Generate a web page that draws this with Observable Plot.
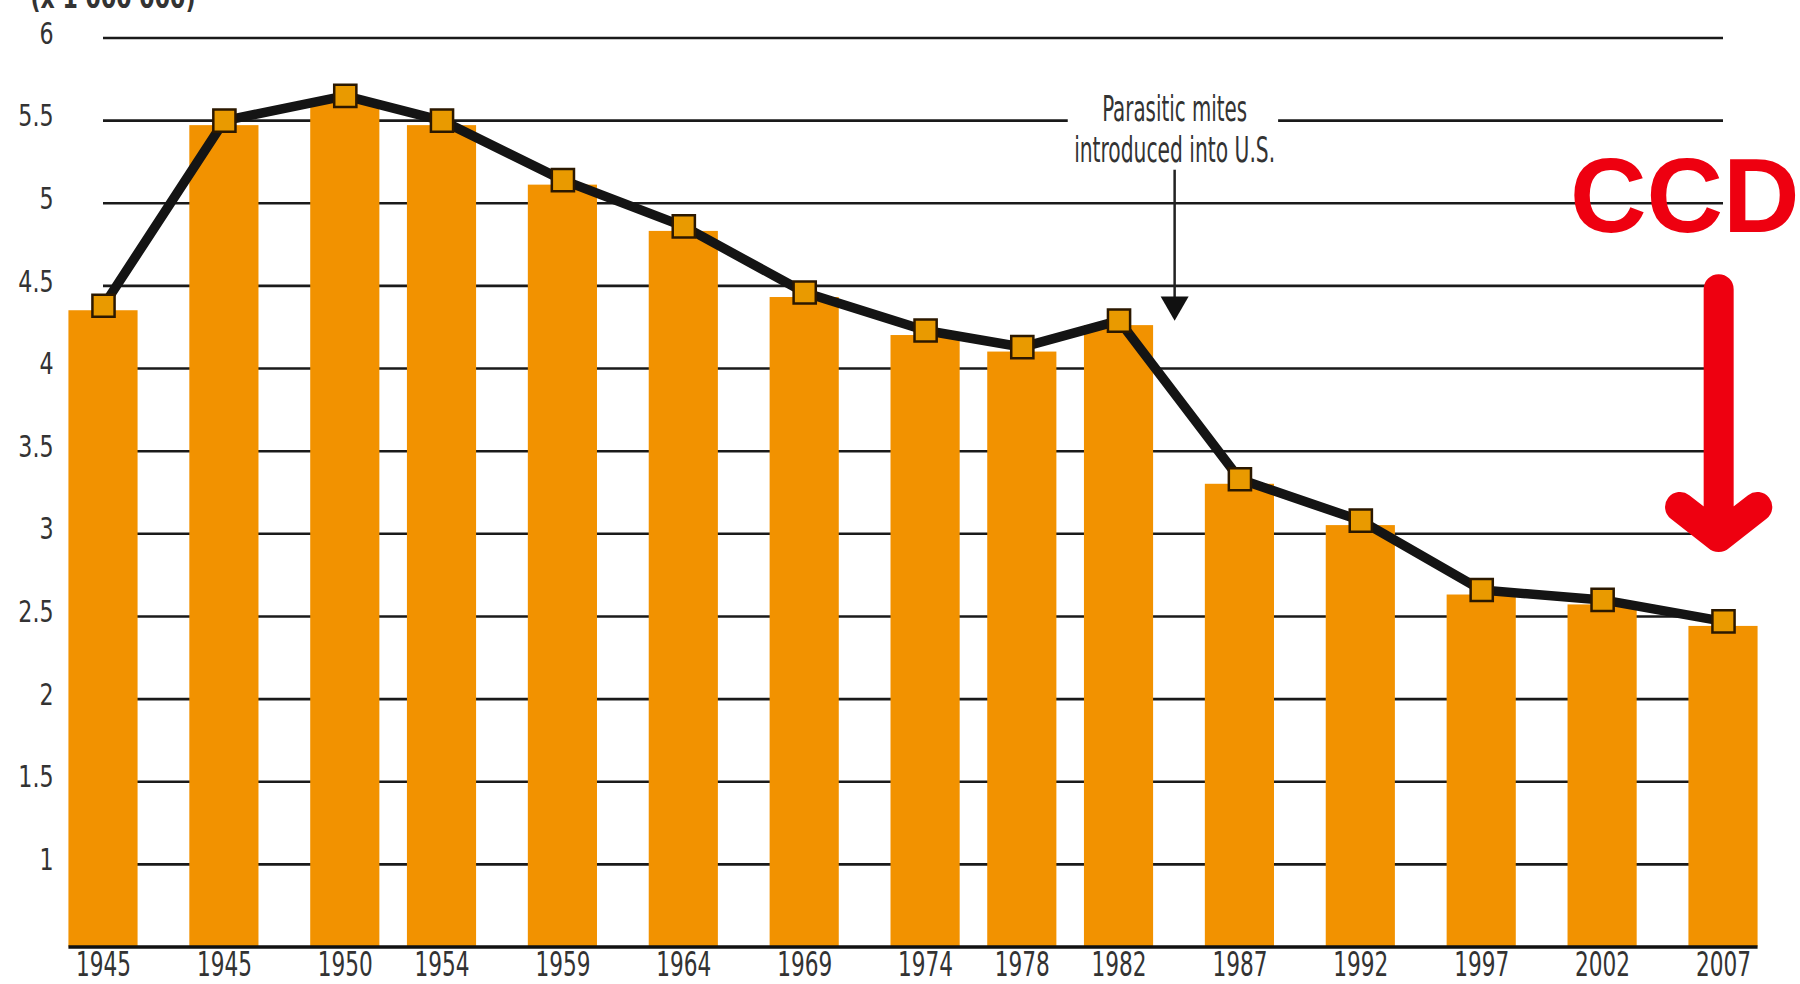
<!DOCTYPE html>
<html>
<head>
<meta charset="utf-8">
<script src="https://cdn.jsdelivr.net/npm/d3@7"></script>
<script src="https://cdn.jsdelivr.net/npm/@observablehq/plot@0.6"></script>
<style>
  html, body { margin: 0; padding: 0; background: #fff; overflow: hidden; }
  #chart { width: 1800px; height: 984px; }
</style>
</head>
<body>
<div id="chart"></div>
<script>
// Honey-producing bee colonies in the U.S. (millions)
const years = [1940, 1945, 1950, 1954, 1959, 1964, 1969, 1974, 1978, 1982, 1987, 1992, 1997, 2002, 2007];
const xTickLabels = ["1945", "1945", "1950", "1954", "1959", "1964", "1969", "1974", "1978", "1982", "1987", "1992", "1997", "2002", "2007"];
const colonies = [4.38, 5.50, 5.65, 5.50, 5.14, 4.86, 4.46, 4.23, 4.13, 4.29, 3.33, 3.08, 2.66, 2.60, 2.47];
const yTicks = [1, 1.5, 2, 2.5, 3, 3.5, 4, 4.5, 5, 5.5, 6];
const yTickLabels = ["1", "1.5", "2", "2.5", "3", "3.5", "4", "4.5", "5", "5.5", "6"];
const unitLabel = "(x 1 000 000)";
const miteNote = ["Parasitic mites", "introduced into U.S."];
const ccdLabel = "CCD";

const data = years.map((year, i) => ({year, value: colonies[i]}));

const yBase = 0.5;
const halfBar = 1.43;          // half bar width, in years
const miteYear = 1984.3;       // where the mite note points
const ccdYear = 2006.8;        // where the CCD arrow sits

const narrow = "'Liberation Sans Narrow', 'DejaVu Sans Condensed', 'Arial Narrow', sans-serif";
const orange = "#f29200";
const red = "#ee0010";
const ink = "#333";

const plot = Plot.plot({
  width: 1800,
  height: 984,
  marginTop: 37.5,
  marginBottom: 37.5,
  marginLeft: 103,
  marginRight: 77,
  x: {type: "linear", domain: [years[0], years[years.length - 1]], label: null},
  y: {domain: [yBase, 6], label: null},
  marks: [
    // horizontal guide lines
    Plot.ruleY(yTicks, {x1: years[0], x2: years[years.length - 1], stroke: "#1a1a1a", strokeWidth: 2.6}),
    // colony bars
    Plot.rectY(data, {x1: d => d.year - halfBar, x2: d => d.year + halfBar, y1: yBase, y2: "value", fill: orange, insetTop: 5}),
    // baseline
    Plot.ruleY([yBase], {x1: years[0] - halfBar, x2: years[years.length - 1] + halfBar, stroke: "#111", strokeWidth: 3.5}),
    // white panel behind the mite note
    Plot.rect([0], {x1: miteYear - 4.4, x2: miteYear + 4.3, y1: 5.21, y2: 5.74, fill: "#fff"}),
    // trend line with square markers
    Plot.line(data, {x: "year", y: "value", stroke: "#141414", strokeWidth: 9.5, strokeLinejoin: "round"}),
    Plot.dot(data, {x: "year", y: "value", symbol: "square", r: 12.5, fill: "#e99a00", stroke: "#2b1800", strokeWidth: 2.5}),
    // mite note: pointer
    Plot.ruleX([miteYear], {y1: 5.20, y2: 4.36, stroke: "#222", strokeWidth: 2.5}),
    Plot.dot([miteYear], {x: d => d, y: 4.29, dy: -16, symbol: "triangle", rotate: 180, r: 10.4, fill: "#111", stroke: "none"}),
    Plot.text([miteNote[0]], {x: miteYear, y: 5.50, text: d => d, lineAnchor: "bottom", fontSize: 35, fontFamily: narrow, fill: ink}),
    Plot.text([miteNote[1]], {x: miteYear, y: 5.25, text: d => d, lineAnchor: "bottom", fontSize: 35, fontFamily: narrow, fill: ink}),
    // CCD callout
    Plot.text([ccdLabel], {x: 2005.4, y: 5.03, text: d => d, lineAnchor: "middle", fontSize: 106, fontWeight: "bold", fontFamily: "'Liberation Sans', Arial, sans-serif", fill: red}),
    Plot.arrow([ccdYear], {x1: d => d, x2: d => d, y1: 4.48, y2: 2.98, stroke: red, strokeWidth: 30, headAngle: 104, headLength: 2.45, strokeLinecap: "round", strokeLinejoin: "round"}),
    // axes
    Plot.axisY({ticks: yTicks, tickFormat: d => yTickLabels[yTicks.indexOf(d)], tickSize: 0, tickPadding: 50, fontSize: 30, fontFamily: narrow, fill: ink, dy: -4, label: null}),
    Plot.axisX({ticks: years, tickFormat: d => xTickLabels[years.indexOf(d)], tickSize: 0, tickPadding: 5, fontSize: 34, fontFamily: narrow, fill: ink, label: null}),
    // unit note above the value axis
    Plot.text([unitLabel], {frameAnchor: "top-left", text: d => d, textAnchor: "start", lineAnchor: "bottom", dx: -73, dy: -30.5, fontSize: 30, fontWeight: "bold", fontFamily: narrow, fill: ink})
  ]
});

document.getElementById("chart").appendChild(plot);

// squeeze labels horizontally to the narrow lettering
function squeeze(t, w) {
  t.setAttribute("textLength", w.toFixed(1));
  t.setAttribute("lengthAdjust", "spacingAndGlyphs");
}
plot.querySelectorAll(`g[aria-label="x-axis tick label"] text`).forEach(t => squeeze(t, 13.75 * t.textContent.length));
plot.querySelectorAll(`g[aria-label="y-axis tick label"] text`).forEach(t => squeeze(t, t.getComputedTextLength() * 0.82));
const fixedWidths = new Map([[miteNote[0], 145], [miteNote[1], 201], [unitLabel, 165]]);
plot.querySelectorAll("text").forEach(t => {
  const w = fixedWidths.get(t.textContent);
  if (w) squeeze(t, w);
});
</script>
</body>
</html>
